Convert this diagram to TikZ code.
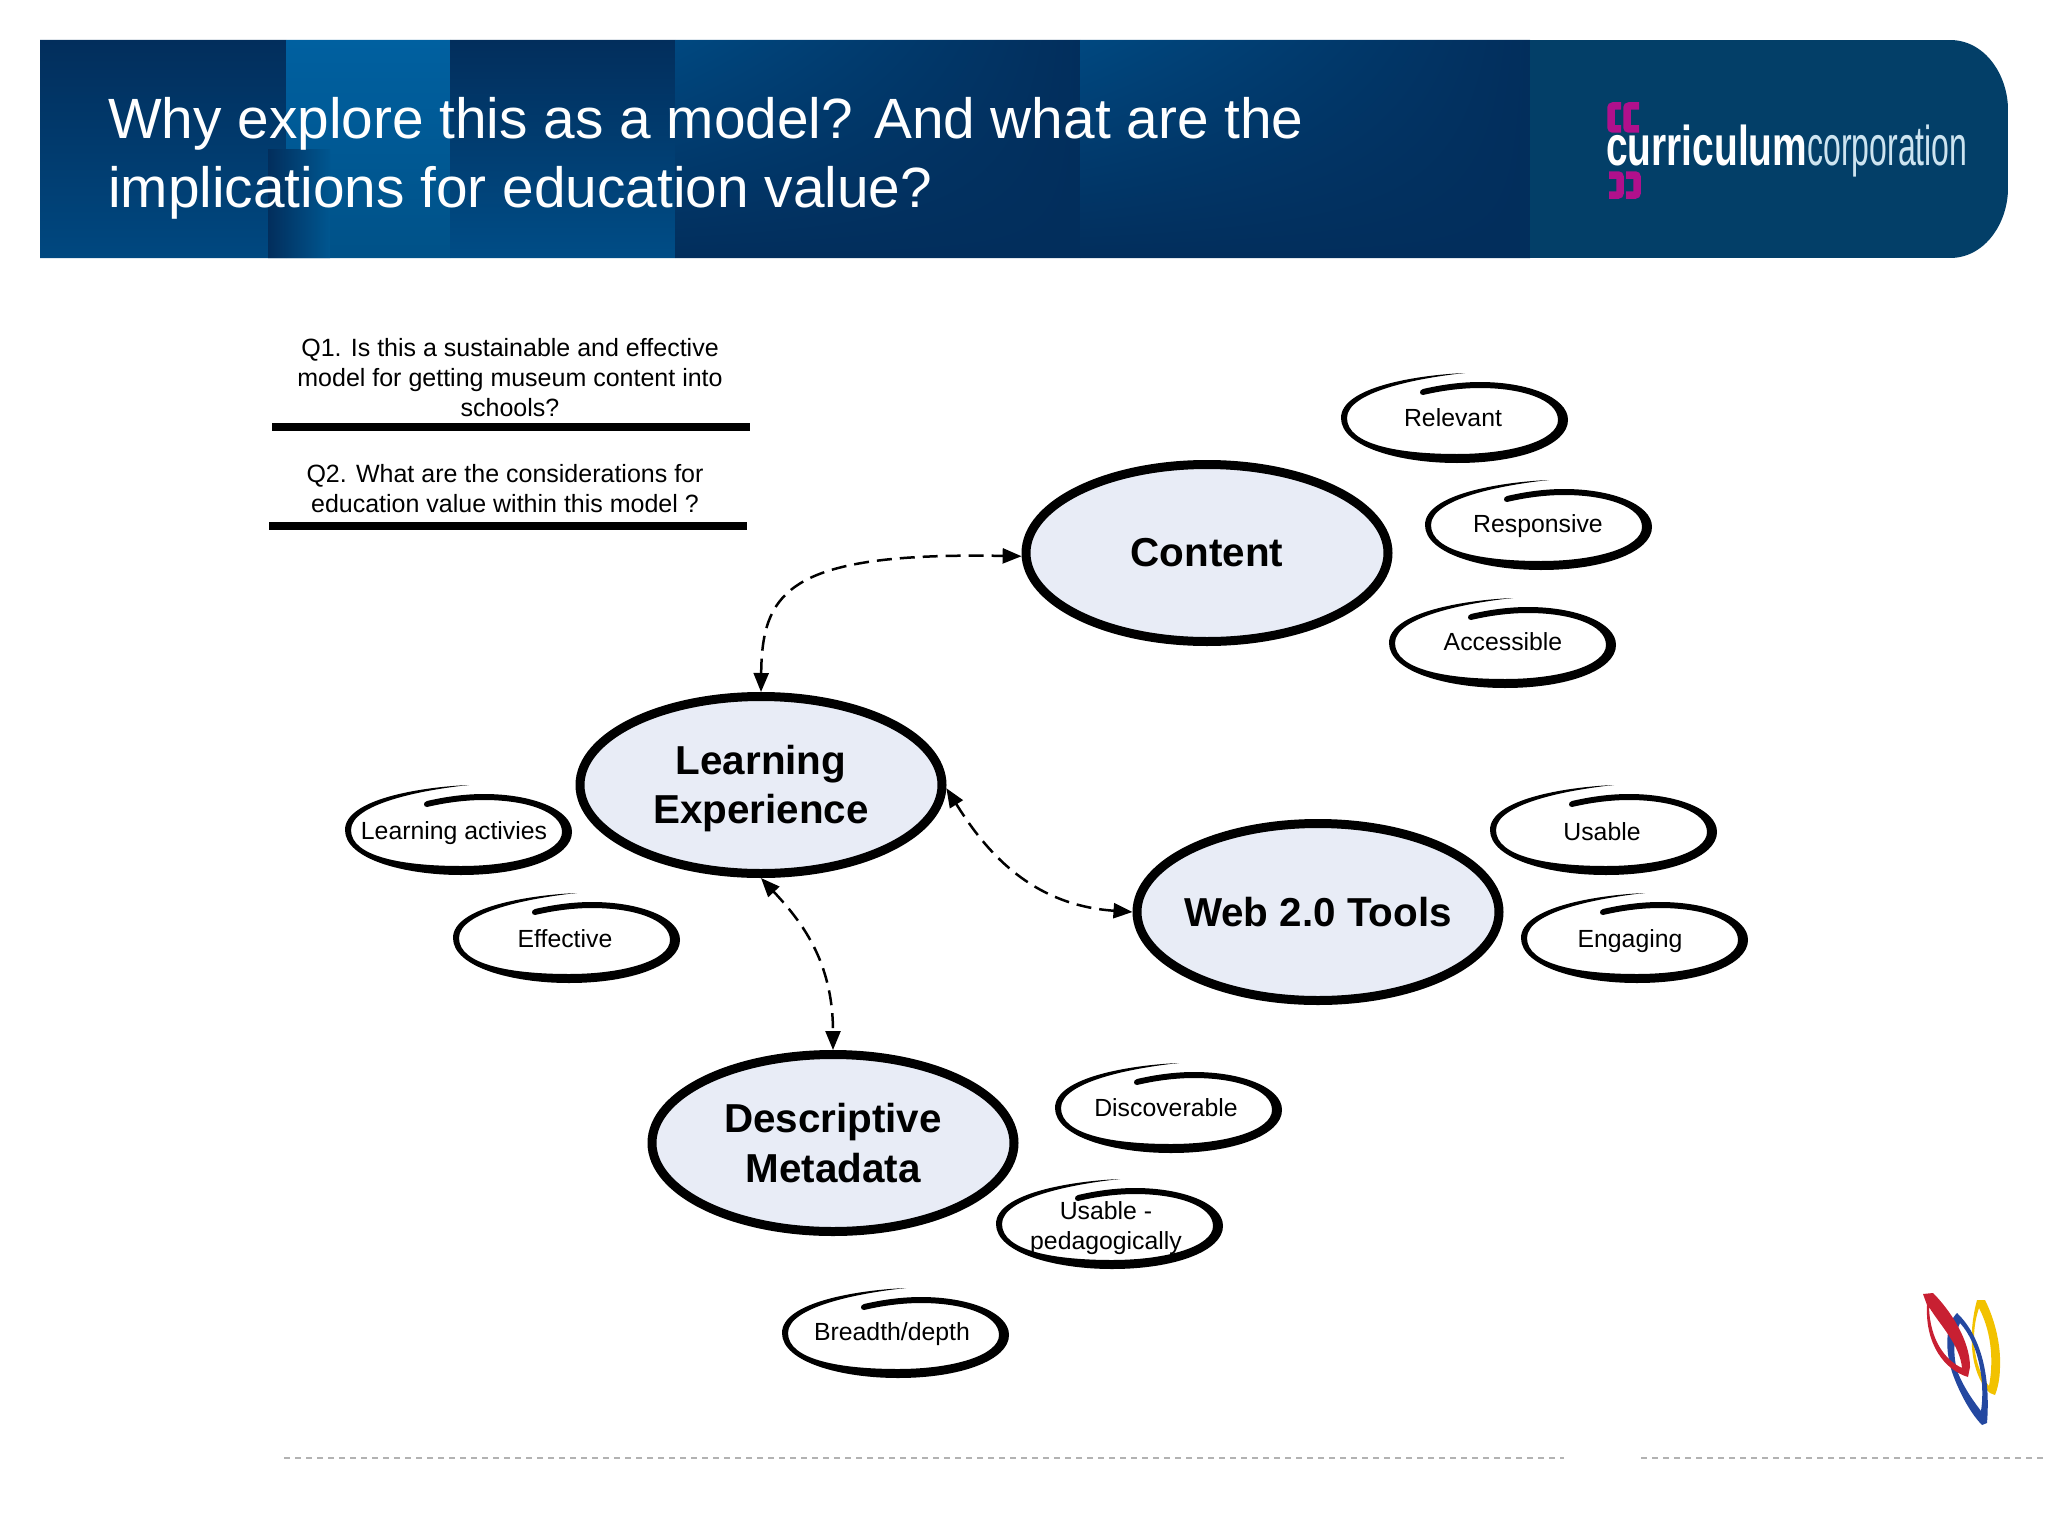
\documentclass[tikz,border=0pt]{standalone}
\usepackage{graphicx}
\usepackage{fontspec}
\setmainfont{Liberation Sans}
\usetikzlibrary{positioning,arrows.meta,shapes.geometric,shadings}
\definecolor{bubbleFill}{RGB}{232,236,246}
\definecolor{logoMagenta}{RGB}{176,16,140}
\definecolor{logoPale}{RGB}{205,228,240}
\definecolor{bannerEnd}{RGB}{3,63,104}
\definecolor{bannerDark}{RGB}{2,46,92}
\definecolor{bannerMid}{RGB}{0,72,128}
\definecolor{bannerBright}{RGB}{0,96,160}
\definecolor{leafRed}{RGB}{200,32,50}
\definecolor{leafBlue}{RGB}{36,72,160}
\definecolor{leafYellow}{RGB}{242,194,0}
\tikzstyle{slide} = [x = 1pt, y = -1pt]
\tikzstyle{topicNode} = [draw=black, line width=9pt, fill=bubbleFill, ellipse, minimum width=362pt, minimum height=177pt, inner sep=-25pt, align=center, font=\fontsize{40.4}{49.5}\selectfont\bfseries]
\tikzstyle{qualityText} = [align=center, inner sep=0pt, font=\fontsize{24.8}{30}\selectfont]
\tikzstyle{questionText} = [align=center, inner sep=0pt, font=\fontsize{25}{30}\selectfont]
\tikzstyle{ruleLine} = [line width=8pt, black]
\tikzstyle{linkLine} = [line width=2.5pt, dash pattern=on 15pt off 8pt, <->, >={Triangle[length=19pt,width=15pt]}]
\tikzstyle{footerLine} = [line width=2.5pt, color=black!30, dash pattern=on 6pt off 5pt]
\tikzstyle{logoBracket} = [logoMagenta, line width=7.5pt, rounded corners=2pt]
\newcommand{\qualityRing}[2]{\fill [shift={(#1,#2)}] (11,-50) .. controls (-37,-48) and (-113,-36) .. (-113,-5) .. controls (-113,24) and (-54,40) .. (3,40) .. controls (66,40) and (114,22) .. (114,-3) .. controls (114,-26) and (73,-41) .. (26,-41) .. controls (6,-41) and (-14,-38) .. (-31,-34) .. controls (-35,-33) and (-35,-28) .. (-31,-28) .. controls (-14,-32) and (6,-35) .. (26,-35) .. controls (69,-35) and (104,-23) .. (104,-3) .. controls (104,17) and (59,31) .. (3,31) .. controls (-54,31) and (-107,22) .. (-107,-5) .. controls (-107,-31) and (-37,-45) .. (11,-50) -- cycle;}
\newcommand{\quality}[6]{
  \qualityRing{#2}{#3}
  \node [qualityText] (#1) at (#4,#5) {#6};
}
\begin{document}
\begin{tikzpicture}[slide]
  \useasboundingbox (0,0) rectangle (2048,1536);

  % banner
  \begin{scope}
    \clip (40,40) -- (1950,40) .. controls (1985,40) and (2008,75) .. (2008,110) -- (2008,188) .. controls (2008,223) and (1985,258) .. (1950,258) -- (40,258) -- cycle;
    \shade [top color=bannerDark, bottom color=bannerMid] (40,40) rectangle (286,258);
    \shade [top color=bannerBright, bottom color=bannerBright!85!black] (286,40) rectangle (450,258);
    \shade [left color=bannerDark, right color=bannerBright!90!black] (268,150) rectangle (330,258);
    \shade [top color=bannerDark, bottom color=bannerMid!80!bannerBright] (450,40) rectangle (675,258);
    \shade [upper left=bannerMid, upper right=bannerDark, lower left=bannerDark, lower right=bannerDark] (675,40) rectangle (1080,258);
    \shade [upper left=bannerMid, upper right=bannerDark, lower left=bannerDark, lower right=bannerDark] (1080,40) rectangle (1530,258);
    \fill [bannerEnd] (1530,40) rectangle (2008,258);
  \end{scope}
  \node [anchor=base west, inner sep=0pt, text=white, align=left, font=\fontsize{56.8}{69}\selectfont] (title) at (108,207) {Why explore this as a model? And what are the\\implications for education value?};

  % logo
  \node [anchor=base west, inner sep=0pt, text=white, font=\fontsize{56}{56}\selectfont] (logo) at (1606,165) {\scalebox{.695}[1]{\bfseries curriculum}\scalebox{.572}[1]{\color{logoPale}corporation}};
  \draw [logoBracket] (1621,106) -- (1611,106) -- (1611,129) -- (1621,129) (1639,106) -- (1627,106) -- (1627,129) -- (1639,129);
  \draw [logoBracket] (1609,175) -- (1620,175) -- (1620,195) -- (1609,195) (1626,175) -- (1637,175) -- (1637,195) -- (1626,195);

  % questions
  \node [questionText] (qOne) at (510,378) {Q1. Is this a sustainable and effective\\model for getting museum content into\\schools?};
  \node [questionText] (qTwo) at (505,489) {Q2. What are the considerations for\\education value within this model ?};
  \draw [ruleLine] (272,427) -- (750,427);
  \draw [ruleLine] (269,526) -- (747,526);

  % topics
  \node [topicNode] (content) at (1207,553) {Content};
  \node [topicNode] (learning) at (761,785) {\rule{0pt}{36pt}Learning\\Experience};
  \node [topicNode] (tools) at (1318,912) {Web 2.0 Tools};
  \node [topicNode] (metadata) at (833,1143) {Descriptive\\Metadata};

  \draw [linkLine] (learning.north) .. controls (762,590) and (790,552) .. (content.181);
  \draw [linkLine] (learning.-1) .. controls (985,850) and (1030,905) .. (tools.west);
  \draw [linkLine] (learning.south) .. controls (800,920) and (833,960) .. (metadata.north);

  % qualities
  \quality{relevant}{1454}{423}{1453}{418}{Relevant}
  \quality{responsive}{1538}{530}{1538}{526}{Responsive}
  \quality{accessible}{1502}{648}{1503}{642}{Accessible}
  \quality{usable}{1603}{835}{1602}{832}{Usable}
  \quality{engaging}{1634}{943}{1630}{941}{Engaging}
  \quality{activities}{458}{835}{454}{833}{Learning activies}
  \quality{effective}{566}{943}{565}{939}{Effective}
  \quality{discoverable}{1168}{1113}{1166}{1108}{Discoverable}
  \quality{pedagogic}{1109}{1229}{1106}{1228}{Usable -\\pedagogically}
  \quality{breadth}{895}{1338}{892}{1334}{Breadth/depth}

  % leaf mark
  \fill [leafYellow, even odd rule] (1977,1300) -- (1985,1300) .. controls (1995,1320) and (2001,1345) .. (2000,1367) .. controls (2000,1380) and (1997,1390) .. (1995,1395) -- (1990,1393) .. controls (1975,1380) and (1965,1345) .. (1977,1300) -- cycle (1979,1308) .. controls (1968,1340) and (1977,1372) .. (1989,1386) .. controls (1993,1365) and (1993,1335) .. (1979,1308) -- cycle;
  \fill [leafBlue, even odd rule] (1957,1313) .. controls (1945,1325) and (1945,1350) .. (1952,1372) .. controls (1960,1395) and (1972,1415) .. (1982,1425) -- (1987,1423) .. controls (1990,1385) and (1985,1340) .. (1957,1313) -- cycle (1960,1323) .. controls (1954,1335) and (1952,1355) .. (1958,1373) .. controls (1965,1390) and (1975,1403) .. (1981,1411) .. controls (1985,1385) and (1980,1345) .. (1960,1323) -- cycle;
  \fill [leafRed, even odd rule] (1923,1294) -- (1933,1293) .. controls (1950,1310) and (1970,1340) .. (1970,1367) -- (1968,1377) .. controls (1945,1370) and (1925,1345) .. (1927,1305) -- cycle (1929,1307) .. controls (1940,1325) and (1960,1345) .. (1962,1368) .. controls (1945,1360) and (1930,1340) .. (1929,1307) -- cycle;

  % footer
  \draw [footerLine] (284,1458) -- (1564,1458);
  \draw [footerLine] (1641,1458) -- (2048,1458);
\end{tikzpicture}
\end{document}
